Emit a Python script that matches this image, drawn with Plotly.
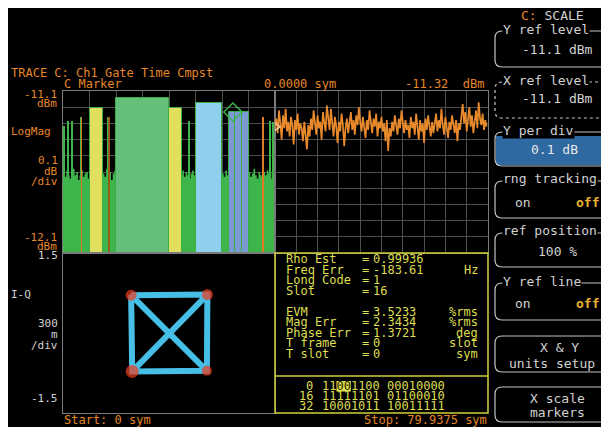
import numpy as np
import plotly.graph_objects as go

# the page adds an 8 px white margin on the left and top; the figure fills the rest
OFF = 8
W, H = 609 - OFF, 427 - OFF
MONO = "DejaVu Sans Mono"
ORANGE = "#e5862a"
GRAY_TXT = "#d2d2d2"
YEL = "#dede50"
GRID = "#4e4e4e"
BORDER = "#7a7a7a"

# ---------------- data ----------------
# code-domain power (dBm) per half code channel, 64 channels
noise_levels = [
    -11.60, -11.63, -11.59, -11.62, -11.64, -11.61, -11.58, -11.62,
    -11.60, -11.65, -11.62, -11.59, -11.63, -11.61, -11.60, -11.64,
    -11.62, -11.60, -11.63, -11.61, -11.59, -11.62, -11.64, -11.60,
    -11.61, -11.63, -11.58, -11.62, -11.60, -11.65, -11.61, -11.59,
    -11.62, -11.60, -11.63, -11.61, -11.59, -11.62, -11.60, -11.64,
    -11.61, -11.63, -11.60, -11.62, -11.59, -11.61, -11.63, -11.60,
    -11.62, -11.60, -11.64, -11.61, -11.59, -11.62, -11.60, -11.63,
    -11.61, -11.59, -11.62, -11.64, -11.60, -11.62, -11.61, -11.63,
    -11.60, -11.62, -11.59, -11.63, -11.61, -11.60, -11.64, -11.62,
    -11.59, -11.63, -11.60, -11.62, -11.64, -11.61, -11.59, -11.62,
    -11.60, -11.64, -11.61, -11.59, -11.63, -11.60, -11.62, -11.61,
    -11.63, -11.59, -11.62, -11.60, -11.64, -11.61, -11.62, -11.60,
    -11.61, -11.63, -11.59, -11.62, -11.60, -11.64, -11.62, -11.59,
    -11.62, -11.60, -11.63, -11.61, -11.59, -11.64, -11.60, -11.62,
    -11.60, -11.63, -11.61, -11.58, -11.62, -11.64, -11.60, -11.62,
    -11.63, -11.60, -11.62, -11.59, -11.61, -11.64, -11.60, -11.62,
]

# active code channels
ch_start = [8, 16, 32, 40, 50, 52, 54]
ch_width = [4, 16, 4, 8, 2, 2, 2]
ch_level = [-11.205, -11.143, -11.205, -11.174, -11.23, -11.23, -11.23]
ch_color = ["#e0e05e", "#63bf79", "#e0e05e", "#8fd0ef", "#7b9ad3", "#7b9ad3", "#7b9ad3"]

# spikes in the noise
spike_code = [0.3, 1.6, 2.9, 5.6, 13.8, 38.2, 60.4, 62.6, 63.6]
spike_level = [-11.316, -11.285, -11.285, -11.26, -11.26, -11.285, -11.26, -11.285, -11.29]
core_code = [5.6, 13.8, 60.4]
core_level = [-11.26, -11.26, -11.26]
core_color = ["#e07b20", "#9a5a18", "#e07b20"]

marker_code = [51.3]
marker_level = [-11.23]

# time trace (dBm) every 0.5 symbol, 0..79.5 sym
trace_dbm = [
    -11.32, -11.27, -11.36, -11.22, -11.30, -11.40, -11.25, -11.33, -11.21, -11.35,
    -11.29, -11.38, -11.26, -11.31, -11.43, -11.28, -11.34, -11.24, -11.37, -11.30,
    -11.33, -11.41, -11.29, -11.36, -11.46, -11.31, -11.38, -11.27, -11.34, -11.22,
    -11.30, -11.37, -11.25, -11.33, -11.29, -11.40, -11.23, -11.31, -11.35, -11.19,
    -11.28, -11.34, -11.21, -11.30, -11.38, -11.26, -11.32, -11.42, -11.29, -11.35,
    -11.24, -11.31, -11.44, -11.33, -11.27, -11.36, -11.30, -11.23, -11.34, -11.28,
    -11.37, -11.25, -11.31, -11.20, -11.29, -11.35, -11.26, -11.33, -11.39, -11.28,
    -11.34, -11.22, -11.30, -11.36, -11.27, -11.32, -11.24, -11.38, -11.29, -11.33,
    -11.26, -11.35, -11.30, -11.41, -11.28, -11.47, -11.33, -11.38, -11.29, -11.35,
    -11.25, -11.31, -11.37, -11.27, -11.33, -11.22, -11.30, -11.36, -11.28, -11.34,
    -11.31, -11.39, -11.26, -11.33, -11.29, -11.37, -11.24, -11.32, -11.40, -11.28,
    -11.35, -11.30, -11.42, -11.27, -11.34, -11.25, -11.31, -11.38, -11.29, -11.36,
    -11.30, -11.24, -11.35, -11.28, -11.33, -11.21, -11.31, -11.37, -11.26, -11.32,
    -11.39, -11.29, -11.34, -11.25, -11.31, -11.36, -11.28, -11.41, -11.30, -11.34,
    -11.26, -11.18, -11.30, -11.23, -11.35, -11.27, -11.20, -11.32, -11.25, -11.36,
    -11.29, -11.22, -11.33, -11.17, -11.27, -11.31, -11.24, -11.34, -11.28, -11.32,
]
marker_sym = [0.0]
marker_dbm = [-11.32]

# I-Q constellation path (symbol sequence) and points
iq_i = [-0.71, 0.72, 0.71, -0.69, -0.71, 0.71, 0.72, -0.69]
iq_q = [0.71, 0.72, -0.71, -0.72, 0.71, -0.71, 0.72, -0.72]
const_i = [-0.71, 0.72, 0.71, -0.69]
const_q = [0.71, 0.72, -0.71, -0.72]
const_size = [11, 11, 10, 13]

meas_labels = ["Rho Est", "Freq Err", "Long Code", "Slot", "EVM", "Mag Err", "Phase Err", "T frame", "T slot"]
meas_values = ["0.99936", "-183.61", "1", "16", "3.5233", "2.3434", "1.3721", "0", "0"]
meas_units = ["", "Hz", "", "", "%rms", "%rms", "deg", "slot", "sym"]

bit_index = ["0", "16", "32"]
bit_rows = ["11001100 00010000", "11111101 01100010", "10001011 10011111"]


# ---------------- helpers (screen pixel -> paper) ----------------
def px(x):
    return (x - OFF) / W


def py(y):
    return 1 - (y - OFF) / H


annotations = []


def ann(text, x, y, color=ORANGE, size=12, xanchor="left", family=MONO, **kw):
    annotations.append(dict(
        text=text, x=px(x), y=py(y), xref="paper", yref="paper",
        xanchor=xanchor, yanchor="middle", showarrow=False,
        font=dict(family=family, size=size, color=color), **kw))


shapes = []

# ---------------- figure ----------------
fig = go.Figure()

Y0 = -12.1
# noise floor (base subplot)
nx = np.arange(len(noise_levels) + 1) * 0.5
ny = noise_levels + [noise_levels[-1]]
fig.add_trace(go.Scatter(x=[0, 64], y=[Y0, Y0], mode="lines", line=dict(width=0, color="#3db54a"),
                         xaxis="x", yaxis="y", hoverinfo="skip"))
fig.add_trace(go.Scatter(x=nx, y=ny, mode="lines", line=dict(width=0, shape="hv", color="#3db54a"),
                         fill="tonexty", fillcolor="#3db54a", xaxis="x", yaxis="y", hoverinfo="skip"))

# spikes and channels (overlay subplot on top of noise)
fig.add_trace(go.Bar(x=spike_code, y=[v - Y0 for v in spike_level], base=Y0, width=0.5,
                     marker=dict(color="#3db54a", line=dict(width=0)), xaxis="x4", yaxis="y4"))
fig.add_trace(go.Bar(x=core_code, y=[v - Y0 for v in core_level], base=Y0, width=0.22,
                     marker=dict(color=core_color, line=dict(width=0)), xaxis="x4", yaxis="y4"))
fig.add_trace(go.Bar(x=[s + w / 2 for s, w in zip(ch_start, ch_width)],
                     y=[v - Y0 for v in ch_level], base=Y0, width=ch_width,
                     marker=dict(color=ch_color, line=dict(width=1, color="#3aae48")),
                     xaxis="x4", yaxis="y4"))
fig.add_trace(go.Scatter(x=marker_code, y=marker_level, mode="markers",
                         marker=dict(symbol="diamond-open", size=14, color="#3db54a",
                                     line=dict(width=1.5, color="#3db54a")),
                         xaxis="x4", yaxis="y4"))

# time trace
fig.add_trace(go.Scatter(x=np.arange(len(trace_dbm)) * 0.5, y=trace_dbm, mode="lines",
                         line=dict(color="#e8892b", width=1.7), xaxis="x2", yaxis="y2"))
fig.add_trace(go.Scatter(x=marker_sym, y=marker_dbm, mode="markers",
                         marker=dict(symbol="triangle-right-open", size=10, color="#f4c8a0",
                                     line=dict(width=1.5, color="#f4c8a0")),
                         xaxis="x2", yaxis="y2"))

# I-Q
fig.add_trace(go.Scatter(x=iq_i, y=iq_q, mode="lines", line=dict(color="#46bee6", width=6),
                         xaxis="x3", yaxis="y3"))
fig.add_trace(go.Scatter(x=const_i, y=const_q, mode="markers",
                         marker=dict(color="#f03a1e", size=const_size, symbol="circle",
                                     line=dict(width=0)),
                         xaxis="x3", yaxis="y3"))

ax_common = dict(showticklabels=False, ticks="", zeroline=False, showline=True,
                 linecolor=BORDER, linewidth=1, mirror=True, fixedrange=True)

iq_xr = 1.5 * 212 / 160

fig.update_layout(
    width=W, height=H, margin=dict(l=0, r=0, t=0, b=0),
    paper_bgcolor="black", plot_bgcolor="black", showlegend=False,
    barmode="overlay", bargap=0,
    xaxis=dict(domain=[px(63), px(275)], anchor="y", range=[0, 64], dtick=8, tick0=0,
               showgrid=True, gridcolor=GRID, **ax_common),
    yaxis=dict(domain=[py(253), py(91)], anchor="x", range=[-12.1, -11.1], dtick=0.1, tick0=-12.1,
               showgrid=True, gridcolor=GRID, **ax_common),
    xaxis4=dict(overlaying="x", anchor="y4", range=[0, 64], visible=False, fixedrange=True),
    yaxis4=dict(overlaying="y", anchor="x4", range=[-12.1, -11.1], visible=False, fixedrange=True),
    xaxis2=dict(domain=[px(275), px(488)], anchor="y2", range=[0, 80], dtick=8, tick0=0,
                showgrid=True, gridcolor=GRID, **ax_common),
    yaxis2=dict(domain=[py(253), py(91)], anchor="x2", range=[-12.1, -11.1], dtick=0.1, tick0=-12.1,
                showgrid=True, gridcolor=GRID, **ax_common),
    xaxis3=dict(domain=[px(63), px(275)], anchor="y3", range=[-iq_xr, iq_xr],
                showgrid=False, **ax_common),
    yaxis3=dict(domain=[py(413), py(253)], anchor="x3", range=[-1.5, 1.5],
                showgrid=False, **ax_common),
)

# ---------------- left texts ----------------
ann("TRACE C: Ch1 Gate Time Cmpst", 9, 73)
ann("C Marker", 62, 84)
ann("0.0000 sym", 262, 84)
ann("-11.32  dBm", 403, 84)
ann("-11.1", 59, 95, size=11, xanchor="right")
ann("dBm", 59, 104, size=11, xanchor="right")
ann("LogMag", 9, 132, size=11)
ann("0.1", 60, 161, size=11, xanchor="right")
ann("dB", 60, 171, size=11, xanchor="right")
ann("/div", 60, 182, size=11, xanchor="right")
ann("-12.1", 59, 237, size=11, xanchor="right")
ann("dBm", 59, 246, size=11, xanchor="right")
ann("1.5", 60, 256, size=11, color=GRAY_TXT, xanchor="right")
ann("I-Q", 9, 294, size=11, color=GRAY_TXT)
ann("300", 60, 323, size=11, color=GRAY_TXT, xanchor="right")
ann("m", 60, 334, size=11, color=GRAY_TXT, xanchor="right")
ann("/div", 60, 345, size=11, color=GRAY_TXT, xanchor="right")
ann("-1.5", 60, 398, size=11, color=GRAY_TXT, xanchor="right")
ann("Start: 0 sym", 62, 420)
ann("Stop: 79.9375 sym", 489, 420, xanchor="right")

# ---------------- measurement box ----------------
shapes.append(dict(type="rect", xref="paper", yref="paper", x0=px(275), x1=px(488),
                   y0=py(413), y1=py(253), line=dict(color="#cfcf3a", width=1.5)))
shapes.append(dict(type="line", xref="paper", yref="paper", x0=px(275), x1=px(488),
                   y0=py(376), y1=py(376), line=dict(color="#cfcf3a", width=1.5)))
row_y = [259, 269.5, 280, 290.5, 311.5, 322, 332.5, 343, 353.5]
for lab, val, unit, yy in zip(meas_labels, meas_values, meas_units, row_y):
    ann(lab, 285, yy, color=YEL, borderpad=0)
    ann("=", 361, yy, color=YEL, borderpad=0)
    ann(val, 372, yy, color=YEL, borderpad=0)
    if unit:
        ann(unit, 479, yy, color=YEL, xanchor="right", borderpad=0)

bit_y = [386, 396, 406]
cw = 7.22
shapes.append(dict(type="rect", xref="paper", yref="paper", x0=px(322 + 2 * cw), x1=px(322 + 4 * cw),
                   y0=py(391.5), y1=py(381), fillcolor="#e0e04a", line=dict(width=0)))
for i, (idx, row, yy) in enumerate(zip(bit_index, bit_rows, bit_y)):
    ann(idx, 314, yy, color=YEL, xanchor="right", borderpad=0)
    if i == 0:
        row = row[:2] + "<span style='color:#1a1a00'>" + row[2:4] + "</span>" + row[4:]
    ann(row, 321, yy, color=YEL, borderpad=0)

# ---------------- right soft-key panel ----------------
ann("<span style='color:%s'>C:</span> SCALE" % ORANGE, 519, 15, color=GRAY_TXT, size=13)

BTN = "#c4c4c4"


def btn_path(top, bot, left=495, right=616, r=7):
    return (f"M {px(right)},{py(top)} L {px(left + r)},{py(top)} "
            f"Q {px(left)},{py(top)} {px(left)},{py(top + r)} "
            f"L {px(left)},{py(bot - r)} Q {px(left)},{py(bot)} {px(left + r)},{py(bot)} "
            f"L {px(right)},{py(bot)}")


buttons = [
    (31, 67, "Y ref level", "solid"),
    (82, 118, "X ref level", "dot"),
    (132, 166, "Y per div", "solid"),
    (181, 218, "rng tracking", "solid"),
    (233, 267, "ref position", "solid"),
    (283, 320, "Y ref line", "solid"),
    (336, 372, None, "solid"),
    (387, 422, None, "solid"),
]
shapes.append(dict(type="rect", xref="paper", yref="paper", x0=px(496), x1=px(612),
                   y0=py(165), y1=py(136), fillcolor="#2f69a2", line=dict(width=0)))
for top, bot, label, dash in buttons:
    shapes.append(dict(type="path", xref="paper", yref="paper", path=btn_path(top, bot),
                       line=dict(color=BTN, width=1.2, dash=dash)))
    if label:
        ann(label, 502, top - 2, color=GRAY_TXT, size=13, bgcolor="black", borderpad=0)

ann("-11.1 dBm", 557, 49, color=GRAY_TXT, size=13, xanchor="center")
ann("-11.1 dBm", 557, 99, color=GRAY_TXT, size=13, xanchor="center")
ann("0.1 dB", 554, 150, color="#e6e6e6", size=13, xanchor="center")
ann("on", 523, 202, color=GRAY_TXT, size=13, xanchor="center")
ann("<b>off</b>", 587, 202, color="#e8b030", size=13, xanchor="center")
ann("100 %", 557, 251, color=GRAY_TXT, size=13, xanchor="center")
ann("on", 523, 303, color=GRAY_TXT, size=13, xanchor="center")
ann("<b>off</b>", 587, 303, color="#e8b030", size=13, xanchor="center")
ann("X & Y", 559, 347, color=GRAY_TXT, size=13, xanchor="center", borderpad=0)
ann("units setup", 552, 363, color=GRAY_TXT, size=13, xanchor="center", borderpad=0)
ann("X scale", 557, 398, color=GRAY_TXT, size=13, xanchor="center", borderpad=0)
ann("markers", 557, 412, color=GRAY_TXT, size=13, xanchor="center", borderpad=0)

fig.update_layout(annotations=annotations, shapes=shapes)
fig.write_html("out.html")
